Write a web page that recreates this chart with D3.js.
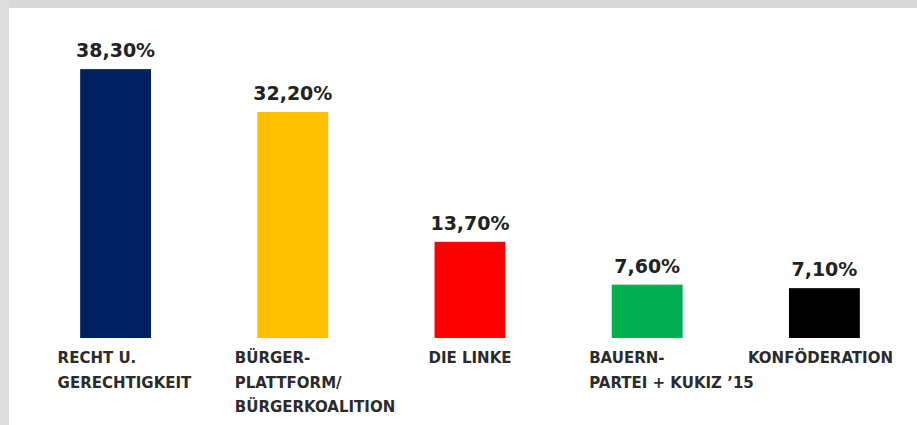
<!DOCTYPE html>
<html>
<head>
<meta charset="utf-8">
<script src="https://cdn.jsdelivr.net/npm/d3@7"></script>
<style>
  body { margin: 0; background: #fff; }
  svg { display: block; }
</style>
</head>
<body>
<svg></svg>
<script>
let width = 917;
let height = 425;

// data
let parties = ["PiS", "KO", "Lewica", "PSL", "Konf"];
let partyLabels = [
  ["RECHT U.", "GERECHTIGKEIT"],
  ["BÜRGER-", "PLATTFORM/", "BÜRGERKOALITION"],
  ["DIE LINKE"],
  ["BAUERN-", "PARTEI + KUKIZ ’15"],
  ["KONFÖDERATION"]
];
let results = [38.3, 32.2, 13.7, 7.6, 7.1];
let barColors = ["#002060", "#ffc000", "#ff0000", "#00b050", "#000000"];

let svg = d3.select("svg")
            .attr("width", width)
            .attr("height", height);

// grey frame of the screenshot
svg.append("rect").attr("x", 0).attr("y", 0).attr("width", width).attr("height", 8).attr("fill", "#d9d9d9");
svg.append("rect").attr("x", 0).attr("y", 0).attr("width", 9).attr("height", height).attr("fill", "#dedede");

let baseline = 338;

let xScale = d3.scaleBand()
               .domain(parties)
               .range([27, 913])
               .paddingInner(0.6)
               .paddingOuter(0.3);

let yScale = d3.scaleLinear()
               .domain([0, 40])
               .range([baseline, baseline - 40 * 7.02]);

let de = d3.formatLocale({ decimal: ",", thousands: ".", grouping: [3], currency: ["", " €"] });
let fmt = de.format(".2f");

svg.selectAll("rect.bar")
  .data(results)
  .enter()
  .append("rect")
  .attr("class", "bar")
  .attr("x", (d, i) => xScale(parties[i]))
  .attr("y", (d) => yScale(d))
  .attr("width", xScale.bandwidth())
  .attr("height", (d) => yScale(0) - yScale(d))
  .attr("fill", (d, i) => barColors[i]);

svg.selectAll("text.value")
  .data(results)
  .enter()
  .append("text")
  .attr("class", "value")
  .attr("x", (d, i) => xScale(parties[i]) + xScale.bandwidth() / 2)
  .attr("y", (d) => yScale(d) - 12)
  .attr("text-anchor", "middle")
  .attr("font-family", "DejaVu Sans")
  .attr("font-weight", "bold")
  .attr("font-size", 19)
  .attr("fill", "#222")
  .text((d) => fmt(d) + "%");

// category labels, wrapped lines left aligned
let labels = svg.selectAll("text.cat")
  .data(partyLabels)
  .enter()
  .append("text")
  .attr("class", "cat")
  .attr("font-family", "DejaVu Sans")
  .attr("font-weight", "bold")
  .attr("font-size", 15)
  .attr("fill", "#2b2b2b");

labels.selectAll("tspan")
  .data((d) => d)
  .enter()
  .append("tspan")
  .attr("dy", (d, j) => j === 0 ? 0 : 24.5)
  .text((d) => d);

labels.each(function (d, i) {
  let el = d3.select(this);
  let w = this.getBBox().width;
  let c = xScale(parties[i]) + xScale.bandwidth() / 2;
  let x = Math.max(c - 58, c - w / 2);
  x = Math.min(x, 893 - w);
  el.attr("x", x).attr("y", baseline + 25);
  el.selectAll("tspan").attr("x", x);
});
</script>
</body>
</html>
